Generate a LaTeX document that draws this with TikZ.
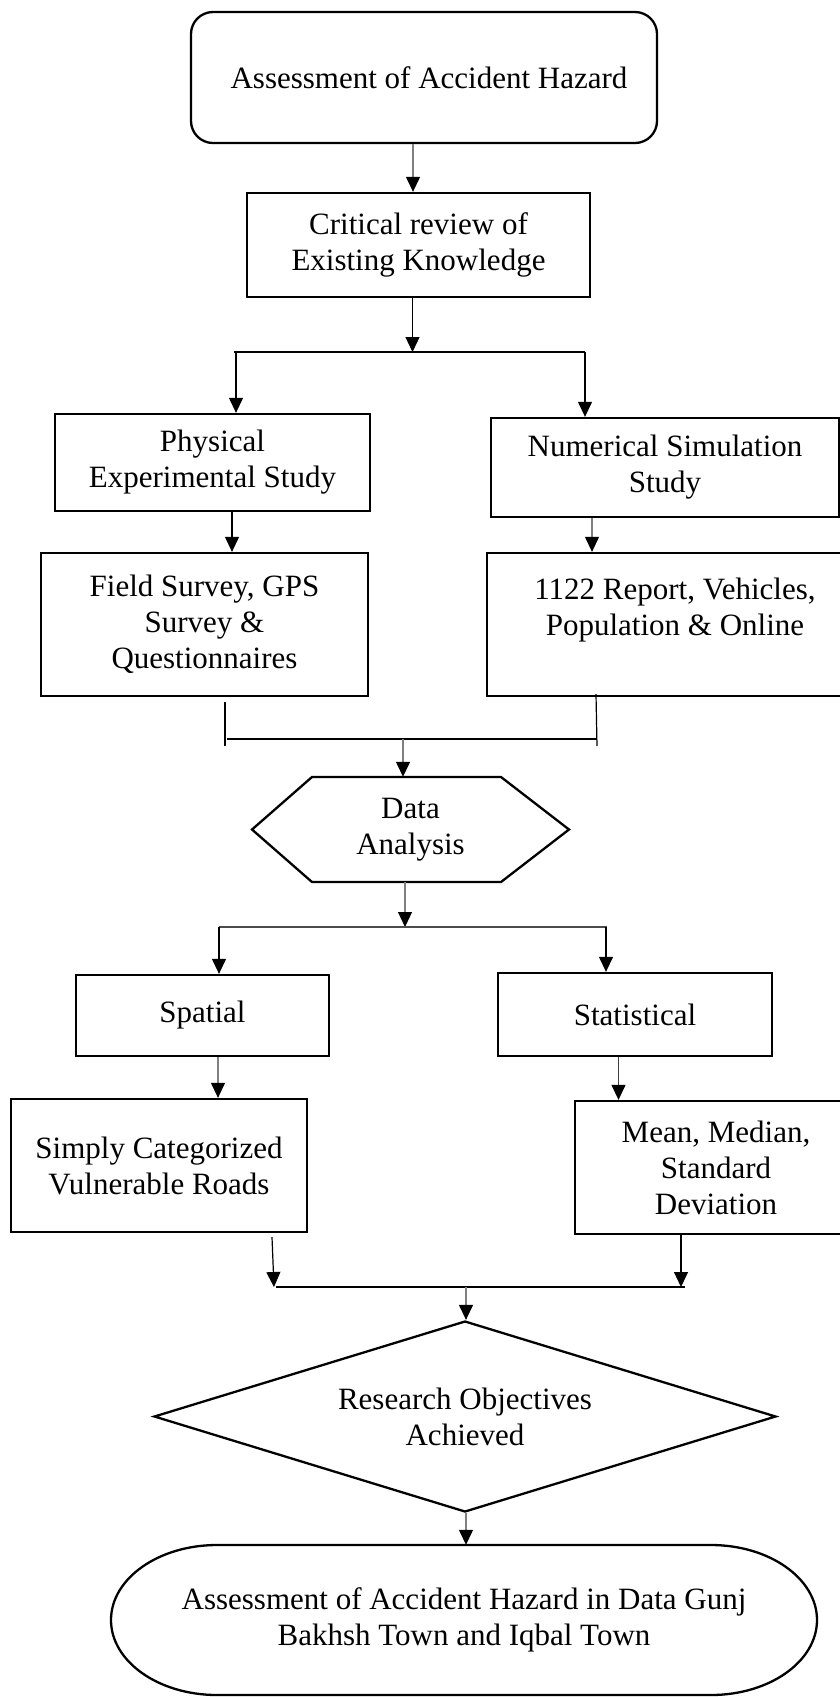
\documentclass[tikz,border=0pt]{standalone}
\usepackage{fontspec}
\setmainfont{Liberation Serif}
\usetikzlibrary{arrows.meta,shapes.geometric}
\definecolor{lgray}{HTML}{808080}
\begin{document}
\begin{tikzpicture}[x=1pt,y=-1pt,
  txt/.style={font=\fontsize{31}{36}\selectfont,align=center,inner sep=0pt},
  box/.style 2 args={txt,draw,line width=2.3pt,minimum width=#1,minimum height=#2},
  con/.style={line width=1.2pt,draw=black},
  gcon/.style={line width=1.2pt,draw=lgray},
  arr/.style={-{Triangle[length=15pt,width=14pt,color=black]}}
]
\useasboundingbox (0,0) rectangle (840,1697);

% nodes
\node[box={466pt}{131pt},rounded corners=22pt] (start) at (424,77.5) {\hspace*{10pt}Assessment of Accident Hazard};
\node[box={343pt}{104pt}] (review) at (418.5,245) {Critical review of\\Existing Knowledge};
\node[box={315pt}{97pt}] (phys) at (212.5,462.5) {Physical\\Experimental Study};
\node[box={348pt}{99pt}] (num) at (665,467.5) {Numerical Simulation\\Study};
\node[box={327pt}{143pt}] (field) at (204.5,624.5) {Field Survey, GPS\\Survey \&\\Questionnaires};
\node[box={376pt}{143pt}] (rep) at (675,624.5) {1122 Report, Vehicles,\\Population \& Online\\\mbox{}};
\node[txt,minimum width=317pt,minimum height=105pt] (hex) at (410.5,829.5) {Data\\Analysis};
\draw[line width=2.3pt,line join=miter] (252,829.5) -- (312,777) -- (501,777) -- (569,829.5) -- (501,882) -- (312,882) -- cycle;
\node[box={253pt}{81pt}] (spat) at (202.5,1015.5) {Spatial};
\node[box={274pt}{83pt}] (stat) at (635,1014.5) {Statistical};
\node[box={296pt}{133pt}] (simp) at (159,1165.5) {Simply Categorized\\Vulnerable Roads};
\node[box={282pt}{133pt}] (mean) at (716,1167.5) {Mean, Median,\\Standard\\Deviation};
\node[txt,draw,diamond,line width=2.3pt,aspect=3.26,minimum width=622pt,minimum height=191pt] (goal) at (465,1416.5) {Research Objectives\\Achieved};
\node[txt,minimum width=706pt,minimum height=150pt] (final) at (464,1620) {Assessment of Accident Hazard in Data Gunj\\Bakhsh Town and Iqbal Town};
\draw[line width=2.3pt] (217,1545) -- (711,1545) arc[start angle=-90,end angle=90,x radius=106,y radius=75]
  -- (217,1695) arc[start angle=90,end angle=270,x radius=106,y radius=75] -- cycle;

% junction coordinates
\coordinate (s1) at (412.5,352);
\coordinate (s1l) at (234,352);
\coordinate (s1r) at (585,352);
\coordinate (m1l) at (225,739);
\coordinate (m1r) at (597,739);
\coordinate (m1) at (403,739);
\coordinate (s2) at (405,927);
\coordinate (s2l) at (219,927);
\coordinate (s2r) at (607,927);
\coordinate (m2l) at (274,1287);
\coordinate (m2r) at (685,1287);
\coordinate (m2) at (466,1287);

% connectors
\draw[gcon,arr] ([xshift=-11pt]start.south) -- ([xshift=-5.5pt]review.north);
\draw[con,arr] ([xshift=-6pt]review.south) -- (s1);
\draw[con] (s1l) -- (s1r);
\draw[con,arr] ([xshift=2pt]s1l) -- ([xshift=2pt]s1l |- phys.north);
\draw[con,arr] (s1r) -- (s1r |- num.north);
\draw[con,arr] ([xshift=19.5pt]phys.south) -- ([xshift=27.5pt]field.north);
\draw[gcon,arr] ([xshift=-73pt]num.south) -- ([xshift=-83pt]rep.north);
\draw[con] ([xshift=20.5pt,yshift=-5pt]field.south) -- ([yshift=-7pt]m1l);
\draw[con] ([xshift=-79pt,yshift=3pt]rep.south) -- ([yshift=-7pt]m1r);
\draw[con] ([xshift=2pt]m1l) -- (m1r);
\draw[gcon,arr] (m1) -- (m1 |- hex.north);
\draw[gcon,arr] (s2 |- hex.south) -- (s2);
\draw[con,draw=black!70] (s2l) -- (s2r);
\draw[con,arr] (s2l) -- (s2l |- spat.north);
\draw[con,arr] ([xshift=-1pt]s2r) -- ([xshift=-1pt]s2r |- stat.north);
\draw[gcon,arr] ([xshift=15.5pt]spat.south) -- ([xshift=59pt]simp.north);
\draw[con,draw=black!75,arr] ([xshift=-16.5pt]stat.south) -- ([xshift=-97.5pt]mean.north);
\draw[con,arr] ([xshift=113pt,yshift=-4pt]simp.south) -- (m2l);
\draw[con,arr] ([xshift=-35pt]mean.south) -- ([xshift=-4pt]m2r);
\draw[con] ([xshift=2pt]m2l) -- (m2r);
\draw[gcon,arr] (m2) -- (m2 |- goal.north);
\draw[gcon,arr] ([xshift=1pt]goal.south) -- ([xshift=2pt]final.north);
\end{tikzpicture}
\end{document}
